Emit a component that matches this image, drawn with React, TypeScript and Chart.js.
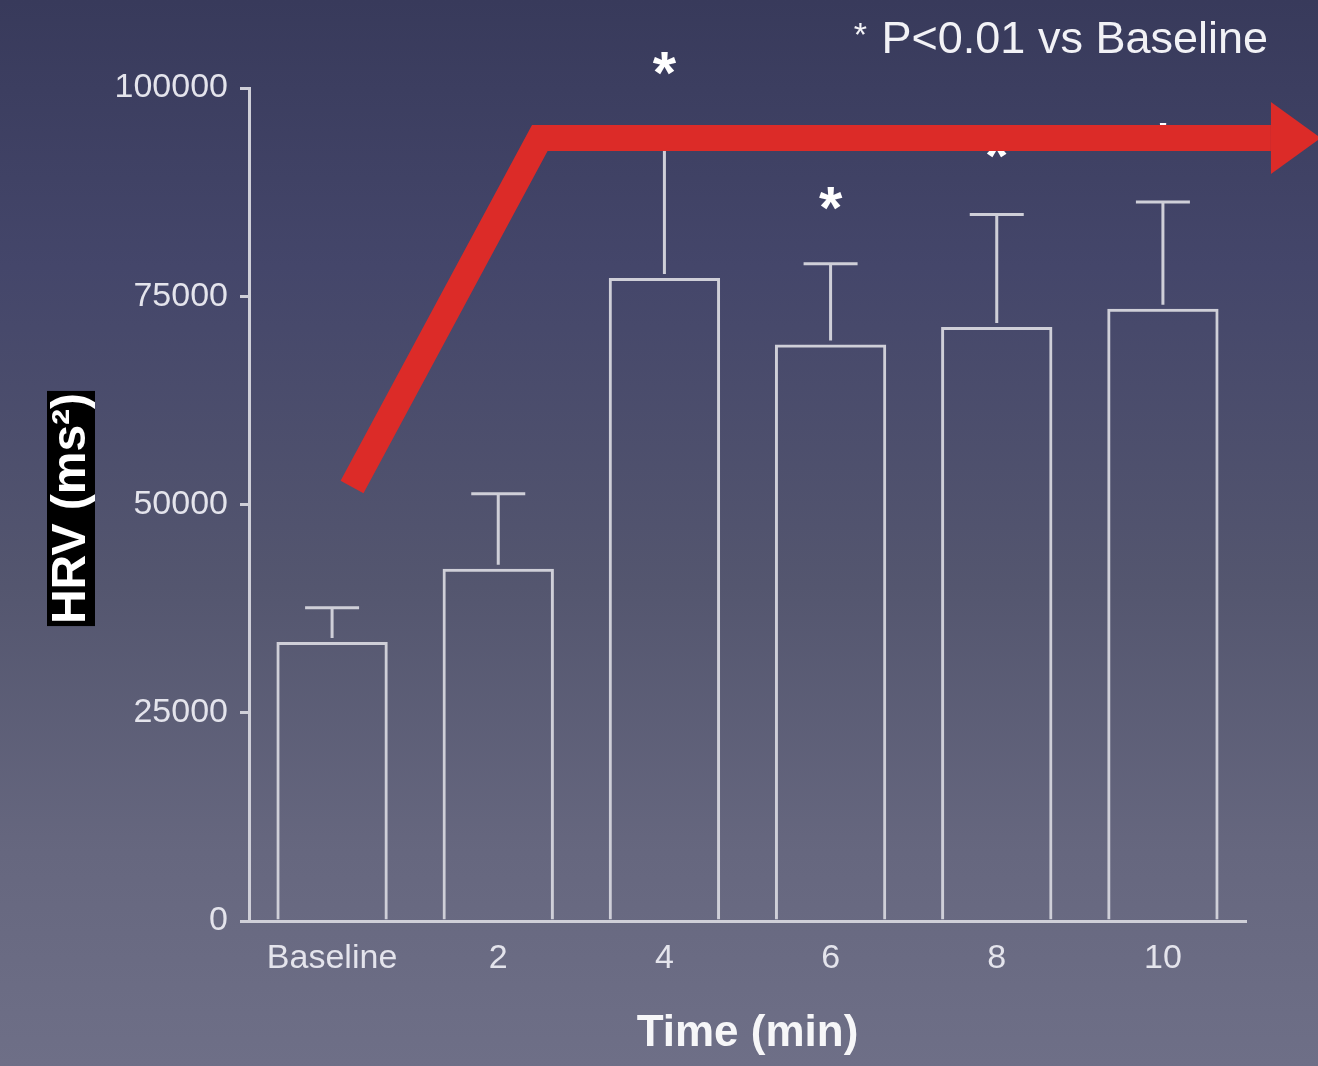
import React, { useEffect, useRef } from 'react';
import { Chart, registerables } from 'chart.js';

Chart.register(...registerables);

// ---- data ----
const categories = ['Baseline', '2', '4', '6', '8', '10'];
const hrvMean = [33500, 42300, 77200, 69200, 71300, 73500];
const hrvUpper = [37600, 51300, 93600, 78900, 84800, 86300];
const starValues: (number | null)[] = [null, null, 103100, 86900, 93200, 94600];
const yTicks = [0, 25000, 50000, 75000, 100000];
// red trend arrow, in (category index, value) units
const arrowIdx = [0.12, 1.25, 5.65];
const arrowVal = [52100, 94000, 94000];
const arrowTipIdx = 5.95;
const arrowHeadHalf = 4320;
const noteText = '* P<0.01 vs Baseline';
const xTitle = 'Time (min)';
const yTitle = 'HRV (ms\u00B2)';

const FONT = '"Liberation Sans", Arial, Helvetica, sans-serif';
const LINE = '#cfcfd8';
const TEXT = '#e4e4ec';
const RED = '#dc2b28';

const overlayPlugin = {
  id: 'overlay',
  afterDatasetsDraw(chart: any) {
    const { ctx, scales } = chart;
    const xs = scales.x;
    const ys = scales.y;
    ctx.save();
    // error bars
    ctx.strokeStyle = LINE;
    ctx.lineWidth = 3;
    ctx.lineCap = 'butt';
    hrvUpper.forEach((u, i) => {
      const x = xs.getPixelForValue(i);
      const yb = ys.getPixelForValue(hrvMean[i]);
      const yt = ys.getPixelForValue(u);
      ctx.beginPath();
      ctx.moveTo(x, yb - 4);
      ctx.lineTo(x, yt);
      ctx.moveTo(x - 27, yt);
      ctx.lineTo(x + 27, yt);
      ctx.stroke();
    });
    // asterisks
    const size = 60;
    ctx.fillStyle = '#ffffff';
    ctx.font = `bold ${size}px ${FONT}`;
    ctx.textAlign = 'center';
    ctx.textBaseline = 'alphabetic';
    starValues.forEach((v, i) => {
      if (v === null) return;
      const x = xs.getPixelForValue(i);
      const y = ys.getPixelForValue(v);
      ctx.fillText('*', x, y + 0.52 * size);
    });
    ctx.restore();
  },
  afterDraw(chart: any) {
    const { ctx, scales, chartArea } = chart;
    const xs = scales.x;
    const ys = scales.y;
    ctx.save();
    // red arrow
    const pts = arrowIdx.map((ix, k) => [xs.getPixelForValue(ix), ys.getPixelForValue(arrowVal[k])]);
    ctx.strokeStyle = RED;
    ctx.lineWidth = 26;
    ctx.lineJoin = 'miter';
    ctx.lineCap = 'butt';
    ctx.beginPath();
    pts.forEach(([x, y], k) => (k === 0 ? ctx.moveTo(x, y) : ctx.lineTo(x, y)));
    ctx.stroke();
    const last = pts[pts.length - 1];
    const yv = arrowVal[arrowVal.length - 1];
    const tipX = xs.getPixelForValue(arrowTipIdx);
    ctx.fillStyle = RED;
    ctx.beginPath();
    ctx.moveTo(last[0], ys.getPixelForValue(yv + arrowHeadHalf));
    ctx.lineTo(tipX, last[1]);
    ctx.lineTo(last[0], ys.getPixelForValue(yv - arrowHeadHalf));
    ctx.closePath();
    ctx.fill();

    // note
    ctx.fillStyle = '#f2f2f6';
    ctx.textBaseline = 'alphabetic';
    ctx.textAlign = 'right';
    ctx.font = `45px ${FONT}`;
    const rest = noteText.slice(1);
    ctx.fillText(rest, 1268, 53);
    const rw = ctx.measureText(rest).width;
    ctx.font = `34px ${FONT}`;
    ctx.fillText('*', 1268 - rw - 2, 46);

    // y title with black background
    const cy = (chartArea.top + chartArea.bottom) / 2 + 4;
    ctx.translate(85, cy);
    ctx.rotate(-Math.PI / 2);
    ctx.font = `bold 48px ${FONT}`;
    const w = ctx.measureText(yTitle).width;
    ctx.fillStyle = '#000000';
    ctx.fillRect(-w / 2 - 2, -38, w + 4, 48);
    ctx.fillStyle = '#ffffff';
    ctx.textAlign = 'center';
    ctx.fillText(yTitle, 0, 0);
    ctx.restore();
  },
};

export default function App() {
  const ref = useRef<HTMLCanvasElement | null>(null);

  useEffect(() => {
    document.body.style.margin = '0';
    if (!ref.current) return;
    const chart = new Chart(ref.current, {
      type: 'bar',
      data: {
        labels: categories,
        datasets: [
          {
            data: hrvMean,
            backgroundColor: 'rgba(0,0,0,0)',
            borderColor: LINE,
            borderWidth: 3,
            borderSkipped: 'bottom',
            barPercentage: 0.67,
            categoryPercentage: 1,
          },
        ],
      },
      options: {
        responsive: false,
        animation: false,
        devicePixelRatio: 1,
        layout: { padding: { left: 0, right: 72, top: 88, bottom: 0 } },
        plugins: {
          legend: { display: false },
          tooltip: { enabled: false },
          title: { display: false },
        },
        scales: {
          x: {
            grid: { drawOnChartArea: false, drawTicks: false, color: LINE },
            border: { color: LINE, width: 3 },
            ticks: {
              color: TEXT,
              font: { family: FONT, size: 34 },
              padding: 17,
              maxRotation: 0,
            },
            title: {
              display: true,
              text: xTitle,
              color: '#f6f6f8',
              font: { family: FONT, size: 44, weight: 'bold' },
              padding: { top: 0, bottom: 6 },
            },
            afterFit: (scale: any) => {
              scale.height = 145;
            },
          },
          y: {
            min: 0,
            max: 100000,
            afterBuildTicks: (scale: any) => {
              scale.ticks = yTicks.map((v) => ({ value: v }));
            },
            grid: { drawOnChartArea: false, drawTicks: true, tickLength: 9, color: LINE, lineWidth: 3 },
            border: { color: LINE, width: 3 },
            ticks: {
              color: TEXT,
              font: { family: FONT, size: 34 },
              padding: 12,
              callback: (v: any) => String(v),
            },
            afterFit: (scale: any) => {
              scale.width = 249;
            },
          },
        },
      },
      plugins: [overlayPlugin],
    });
    return () => chart.destroy();
  }, []);

  return (
    <div
      style={{
        width: 1318,
        height: 1066,
        background: 'linear-gradient(to bottom, #383a5b 0%, #44466a 25%, #54566f 55%, #66677f 80%, #6e6f87 100%)',
      }}
    >
      <canvas ref={ref} width={1318} height={1066} style={{ display: 'block' }} />
    </div>
  );
}
